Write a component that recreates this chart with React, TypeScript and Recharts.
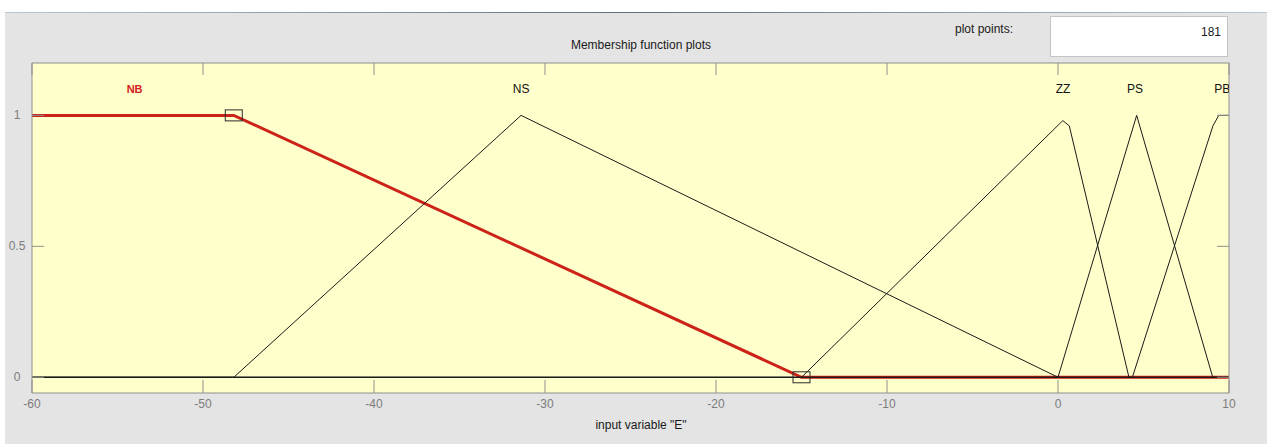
import { ComposedChart, Line, Scatter, XAxis, YAxis, CartesianGrid } from 'recharts'

const xTicks = [-60, -50, -40, -30, -20, -10, 0, 10]
const yTicks = [0, 0.5, 1]

// membership function vertices: input value / degree
const nbX = [-60, -48.2, -15, 10]
const nbY = [1, 1, 0, 0]
const nsX = [-60, -48.2, -31.4, 0, 10]
const nsY = [0, 0, 1, 0, 0]
const zzX = [-60, -15, 0.28, 0.66, 4.15, 10]
const zzY = [0, 0, 0.98, 0.96, 0, 0]
const psX = [-60, 0, 4.6, 9.05, 10]
const psY = [0, 0, 1, 0, 0]
const pbX = [-60, 4.35, 9.06, 9.4, 10]
const pbY = [0, 0, 0.96, 1, 1]

const mfNames = ['NB', 'NS', 'ZZ', 'PS', 'PB']
const mfLabelX = [-54, -31.4, 0.3, 4.5, 9.6]
const mfLabelY = 1.1

// handles of the selected function (NB)
const handleX = [-48.2, -15]
const handleY = [1, 0]

const toPoints = (xs: number[], ys: number[]) => xs.map((x, i) => ({ x, y: ys[i] }))

const FONT = '"Liberation Sans", Arial, sans-serif'
const AXIS = '#8f8f8f'

const BottomTick = (props: any) => {
  const { x, y, payload } = props
  return (
    <g>
      <line x1={x} y1={y} x2={x} y2={y - 13} stroke={AXIS} />
      <text x={x} y={y + 15} textAnchor="middle" fill="#7c7c7c" fontSize={12} fontFamily={FONT}>
        {payload.value}
      </text>
    </g>
  )
}

const TopTick = (props: any) => {
  const { x, y } = props
  return <line x1={x} y1={y} x2={x} y2={y + 12} stroke={AXIS} />
}

const LeftTick = (props: any) => {
  const { x, y, payload } = props
  return (
    <g>
      <line x1={x} y1={y} x2={x + 12} y2={y} stroke={AXIS} />
      <text x={x - 15} y={y + 4} textAnchor="middle" fill="#7c7c7c" fontSize={12} fontFamily={FONT}>
        {payload.value}
      </text>
    </g>
  )
}

const RightTick = (props: any) => {
  const { x, y } = props
  return <line x1={x} y1={y} x2={x - 12} y2={y} stroke={AXIS} />
}

const HandleBox = (props: any) => {
  const { cx, cy } = props
  return <rect x={cx - 8.5} y={cy - 5.5} width={17} height={11} fill="none" stroke="#2a2a2a" strokeWidth={1} />
}

const MfLabel = (props: any) => {
  const { cx, cy, payload } = props
  const selected = payload.name === 'NB'
  return (
    <text
      x={cx}
      y={cy + 4}
      textAnchor="middle"
      fontSize={selected ? 11 : 12}
      fontWeight={selected ? 'bold' : 'normal'}
      fill={selected ? '#d42020' : '#111'}
      fontFamily={FONT}
    >
      {payload.name}
    </text>
  )
}

export default function App() {
  const labels = mfNames.map((name, i) => ({ name, x: mfLabelX[i], y: mfLabelY }))
  const blackLines = [
    toPoints(nsX, nsY),
    toPoints(zzX, zzY),
    toPoints(psX, psY),
    toPoints(pbX, pbY),
  ]

  return (
    <div style={{ position: 'absolute', left: 0, top: 0, width: 1267, height: 444, background: '#fff', fontFamily: FONT }}>
      <div style={{ position: 'absolute', left: 5, top: 13, width: 1262, height: 431, background: '#e4e4e4' }} />
      <div
        style={{
          position: 'absolute', left: 5, top: 12, width: 1262, height: 1,
          background: 'linear-gradient(to right, #b9c6d6, #5f6f84 50%, #b9c6d6)',
        }}
      />

      <div style={{ position: 'absolute', left: 441, top: 38, width: 400, textAlign: 'center', fontSize: 12, color: '#1a1a1a' }}>
        Membership function plots
      </div>
      <div style={{ position: 'absolute', left: 955, top: 22, fontSize: 12, color: '#1a1a1a' }}>plot points:</div>
      <div
        style={{
          position: 'absolute', left: 1050, top: 16, width: 176, height: 39, background: '#fff',
          border: '1px solid #c4c4c4', fontSize: 12, color: '#1a1a1a', textAlign: 'right',
          boxSizing: 'content-box',
        }}
      >
        <span style={{ position: 'absolute', right: 6, top: 8 }}>181</span>
      </div>
      <div style={{ position: 'absolute', left: 441, top: 418, width: 400, textAlign: 'center', fontSize: 12, color: '#1a1a1a' }}>
        input variable "E"
      </div>

      <div style={{ position: 'absolute', left: 0, top: 0 }}>
        <ComposedChart width={1267} height={444} margin={{ top: 53, right: 28, bottom: 21, left: 12 }}>
          <CartesianGrid fill="#ffffcc" horizontal={false} vertical={false} />
          <XAxis
            xAxisId="b"
            type="number"
            dataKey="x"
            domain={[-60, 10]}
            ticks={xTicks}
            interval={0}
            height={30}
            tickSize={0}
            tickMargin={0}
            tickLine={false}
            axisLine={{ stroke: AXIS }}
            tick={<BottomTick />}
            allowDataOverflow
          />
          <XAxis
            xAxisId="t"
            orientation="top"
            type="number"
            dataKey="x"
            domain={[-60, 10]}
            ticks={xTicks}
            interval={0}
            height={10}
            tickSize={0}
            tickMargin={0}
            tickLine={false}
            axisLine={{ stroke: AXIS }}
            tick={<TopTick />}
            allowDataOverflow
          />
          <YAxis
            yAxisId="l"
            type="number"
            domain={[-0.06, 1.2]}
            ticks={yTicks}
            interval={0}
            width={20}
            tickSize={0}
            tickMargin={0}
            tickLine={false}
            axisLine={{ stroke: AXIS }}
            tick={<LeftTick />}
            allowDataOverflow
          />
          <YAxis
            yAxisId="r"
            orientation="right"
            type="number"
            domain={[-0.06, 1.2]}
            ticks={yTicks}
            interval={0}
            width={10}
            tickSize={0}
            tickMargin={0}
            tickLine={false}
            axisLine={{ stroke: AXIS }}
            tick={<RightTick />}
            allowDataOverflow
          />

          <Line
            xAxisId="b"
            yAxisId="l"
            data={toPoints(nbX, nbY)}
            dataKey="y"
            type="linear"
            stroke="#cc2218"
            strokeWidth={3}
            dot={false}
            activeDot={false}
            isAnimationActive={false}
          />
          {blackLines.map((pts, i) => (
            <Line
              key={i}
              xAxisId="b"
              yAxisId="l"
              data={pts}
              dataKey="y"
              type="linear"
              stroke="#1a1a1a"
              strokeWidth={1}
              dot={false}
              activeDot={false}
              isAnimationActive={false}
            />
          ))}
          <Scatter
            xAxisId="b"
            yAxisId="l"
            data={toPoints(handleX, handleY)}
            dataKey="y"
            shape={<HandleBox />}
            isAnimationActive={false}
          />
          <Scatter
            xAxisId="b"
            yAxisId="l"
            data={labels}
            dataKey="y"
            shape={<MfLabel />}
            isAnimationActive={false}
          />
        </ComposedChart>
      </div>
    </div>
  )
}
